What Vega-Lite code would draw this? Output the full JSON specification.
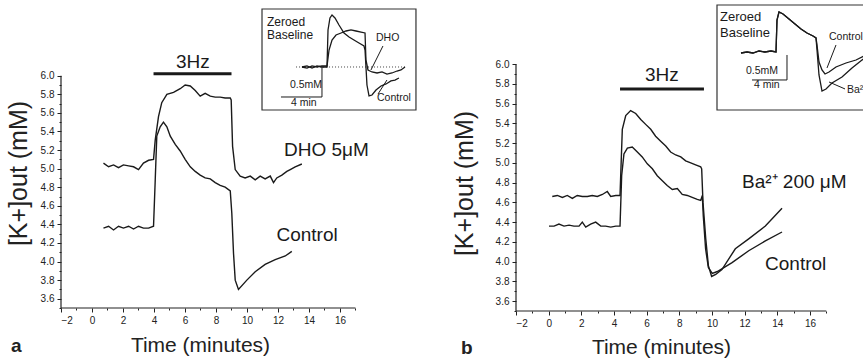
{
  "$schema": "https://vega.github.io/schema/vega-lite/v6.json",
  "padding": {"left": 6, "top": 4, "right": 0, "bottom": 0},
  "spacing": 33,
  "background": "white",
  "config": {
    "view": {"stroke": null},
    "font": "Liberation Sans",
    "axis": {"domain": false, "grid": false, "tickColor": "#222", "tickSize": 4, "labelColor": "#222", "labelFont": "Liberation Sans", "labelFontSize": 10, "labelPadding": 3, "titleFont": "Liberation Sans", "titleFontSize": 21, "titleFontWeight": "normal", "titleColor": "#222"},
    "title": {"font": "Liberation Sans", "color": "#222"}
  },
  "datasets": {
    "a_main": [
      {"t":0.74,"k":5.06,"s":"DHO"},{"t":1.07,"k":5.02,"s":"DHO"},{"t":1.39,"k":5.04,"s":"DHO"},{"t":1.71,"k":5.01,"s":"DHO"},{"t":2.03,"k":5.04,"s":"DHO"},{"t":2.36,"k":5.03,"s":"DHO"},{"t":2.68,"k":5.02,"s":"DHO"},{"t":3.0,"k":4.99,"s":"DHO"},{"t":3.32,"k":5.06,"s":"DHO"},{"t":3.65,"k":5.09,"s":"DHO"},{"t":3.97,"k":5.1,"s":"DHO"},{"t":4.08,"k":5.31,"s":"DHO"},{"t":4.29,"k":5.56,"s":"DHO"},{"t":4.5,"k":5.71,"s":"DHO"},{"t":4.83,"k":5.8,"s":"DHO"},{"t":5.26,"k":5.82,"s":"DHO"},{"t":5.69,"k":5.86,"s":"DHO"},{"t":6.01,"k":5.9,"s":"DHO"},{"t":6.34,"k":5.89,"s":"DHO"},{"t":6.66,"k":5.84,"s":"DHO"},{"t":6.98,"k":5.78,"s":"DHO"},{"t":7.3,"k":5.81,"s":"DHO"},{"t":7.63,"k":5.78,"s":"DHO"},{"t":7.95,"k":5.77,"s":"DHO"},{"t":8.27,"k":5.77,"s":"DHO"},{"t":8.59,"k":5.76,"s":"DHO"},{"t":8.92,"k":5.76,"s":"DHO"},{"t":8.98,"k":5.74,"s":"DHO"},{"t":9.07,"k":5.24,"s":"DHO"},{"t":9.24,"k":4.99,"s":"DHO"},{"t":9.56,"k":4.92,"s":"DHO"},{"t":9.88,"k":4.9,"s":"DHO"},{"t":10.21,"k":4.92,"s":"DHO"},{"t":10.53,"k":4.88,"s":"DHO"},{"t":10.85,"k":4.92,"s":"DHO"},{"t":11.17,"k":4.89,"s":"DHO"},{"t":11.5,"k":4.92,"s":"DHO"},{"t":11.71,"k":4.85,"s":"DHO"},{"t":11.92,"k":4.9,"s":"DHO"},{"t":12.25,"k":4.93,"s":"DHO"},{"t":12.57,"k":4.97,"s":"DHO"},{"t":12.79,"k":4.99,"s":"DHO"},{"t":13.11,"k":5.02,"s":"DHO"},{"t":13.54,"k":5.05,"s":"DHO"},
      {"t":0.74,"k":4.36,"s":"Control"},{"t":1.07,"k":4.38,"s":"Control"},{"t":1.39,"k":4.34,"s":"Control"},{"t":1.71,"k":4.38,"s":"Control"},{"t":2.03,"k":4.36,"s":"Control"},{"t":2.36,"k":4.38,"s":"Control"},{"t":2.68,"k":4.35,"s":"Control"},{"t":3.0,"k":4.38,"s":"Control"},{"t":3.32,"k":4.36,"s":"Control"},{"t":3.65,"k":4.36,"s":"Control"},{"t":3.97,"k":4.38,"s":"Control"},{"t":4.08,"k":4.88,"s":"Control"},{"t":4.18,"k":5.35,"s":"Control"},{"t":4.4,"k":5.45,"s":"Control"},{"t":4.61,"k":5.5,"s":"Control"},{"t":4.83,"k":5.45,"s":"Control"},{"t":5.05,"k":5.35,"s":"Control"},{"t":5.37,"k":5.26,"s":"Control"},{"t":5.69,"k":5.19,"s":"Control"},{"t":6.01,"k":5.1,"s":"Control"},{"t":6.34,"k":5.02,"s":"Control"},{"t":6.66,"k":4.97,"s":"Control"},{"t":6.98,"k":4.93,"s":"Control"},{"t":7.3,"k":4.9,"s":"Control"},{"t":7.63,"k":4.89,"s":"Control"},{"t":7.95,"k":4.85,"s":"Control"},{"t":8.27,"k":4.82,"s":"Control"},{"t":8.59,"k":4.8,"s":"Control"},{"t":8.92,"k":4.76,"s":"Control"},{"t":9.02,"k":4.52,"s":"Control"},{"t":9.13,"k":4.09,"s":"Control"},{"t":9.24,"k":3.8,"s":"Control"},{"t":9.45,"k":3.7,"s":"Control"},{"t":9.99,"k":3.8,"s":"Control"},{"t":10.53,"k":3.89,"s":"Control"},{"t":11.17,"k":3.97,"s":"Control"},{"t":11.82,"k":4.02,"s":"Control"},{"t":12.47,"k":4.06,"s":"Control"},{"t":12.89,"k":4.11,"s":"Control"}
    ],
    "b_main": [
      {"t":0.22,"k":4.66,"s":"Ba"},{"t":0.53,"k":4.67,"s":"Ba"},{"t":0.84,"k":4.65,"s":"Ba"},{"t":1.14,"k":4.67,"s":"Ba"},{"t":1.45,"k":4.64,"s":"Ba"},{"t":1.75,"k":4.67,"s":"Ba"},{"t":2.06,"k":4.66,"s":"Ba"},{"t":2.37,"k":4.66,"s":"Ba"},{"t":2.67,"k":4.67,"s":"Ba"},{"t":2.98,"k":4.66,"s":"Ba"},{"t":3.29,"k":4.68,"s":"Ba"},{"t":3.59,"k":4.71,"s":"Ba"},{"t":3.8,"k":4.66,"s":"Ba"},{"t":4.11,"k":4.67,"s":"Ba"},{"t":4.37,"k":4.67,"s":"Ba"},{"t":4.51,"k":5.34,"s":"Ba"},{"t":4.72,"k":5.48,"s":"Ba"},{"t":5.02,"k":5.53,"s":"Ba"},{"t":5.33,"k":5.5,"s":"Ba"},{"t":5.64,"k":5.44,"s":"Ba"},{"t":5.94,"k":5.39,"s":"Ba"},{"t":6.25,"k":5.34,"s":"Ba"},{"t":6.55,"k":5.27,"s":"Ba"},{"t":6.86,"k":5.22,"s":"Ba"},{"t":7.17,"k":5.17,"s":"Ba"},{"t":7.47,"k":5.11,"s":"Ba"},{"t":7.78,"k":5.08,"s":"Ba"},{"t":8.09,"k":5.06,"s":"Ba"},{"t":8.39,"k":5.02,"s":"Ba"},{"t":8.7,"k":5.0,"s":"Ba"},{"t":9.0,"k":4.98,"s":"Ba"},{"t":9.31,"k":4.96,"s":"Ba"},{"t":9.37,"k":4.94,"s":"Ba"},{"t":9.45,"k":4.6,"s":"Ba"},{"t":9.62,"k":4.23,"s":"Ba"},{"t":9.78,"k":3.96,"s":"Ba"},{"t":9.98,"k":3.85,"s":"Ba"},{"t":10.23,"k":3.87,"s":"Ba"},{"t":10.61,"k":3.92,"s":"Ba"},{"t":11.43,"k":4.13,"s":"Ba"},{"t":12.25,"k":4.23,"s":"Ba"},{"t":13.27,"k":4.36,"s":"Ba"},{"t":14.29,"k":4.54,"s":"Ba"},
      {"t":0.02,"k":4.36,"s":"Control"},{"t":0.33,"k":4.36,"s":"Control"},{"t":0.63,"k":4.38,"s":"Control"},{"t":0.94,"k":4.36,"s":"Control"},{"t":1.25,"k":4.37,"s":"Control"},{"t":1.55,"k":4.36,"s":"Control"},{"t":1.86,"k":4.36,"s":"Control"},{"t":2.06,"k":4.4,"s":"Control"},{"t":2.27,"k":4.35,"s":"Control"},{"t":2.57,"k":4.38,"s":"Control"},{"t":2.88,"k":4.4,"s":"Control"},{"t":3.19,"k":4.36,"s":"Control"},{"t":3.49,"k":4.36,"s":"Control"},{"t":3.8,"k":4.35,"s":"Control"},{"t":4.11,"k":4.36,"s":"Control"},{"t":4.37,"k":4.36,"s":"Control"},{"t":4.47,"k":4.87,"s":"Control"},{"t":4.61,"k":5.09,"s":"Control"},{"t":4.82,"k":5.15,"s":"Control"},{"t":5.12,"k":5.16,"s":"Control"},{"t":5.43,"k":5.11,"s":"Control"},{"t":5.73,"k":5.06,"s":"Control"},{"t":6.04,"k":4.99,"s":"Control"},{"t":6.35,"k":4.94,"s":"Control"},{"t":6.65,"k":4.87,"s":"Control"},{"t":6.96,"k":4.82,"s":"Control"},{"t":7.26,"k":4.77,"s":"Control"},{"t":7.57,"k":4.73,"s":"Control"},{"t":7.88,"k":4.74,"s":"Control"},{"t":8.18,"k":4.68,"s":"Control"},{"t":8.49,"k":4.67,"s":"Control"},{"t":8.79,"k":4.65,"s":"Control"},{"t":9.1,"k":4.63,"s":"Control"},{"t":9.31,"k":4.62,"s":"Control"},{"t":9.41,"k":4.67,"s":"Control"},{"t":9.47,"k":4.46,"s":"Control"},{"t":9.61,"k":4.13,"s":"Control"},{"t":9.78,"k":3.94,"s":"Control"},{"t":10.02,"k":3.88,"s":"Control"},{"t":10.33,"k":3.9,"s":"Control"},{"t":11.23,"k":3.99,"s":"Control"},{"t":12.25,"k":4.11,"s":"Control"},{"t":13.27,"k":4.21,"s":"Control"},{"t":14.29,"k":4.3,"s":"Control"}
    ],
    "a_inset": [
      {"t":-2.44,"v":0,"s":"Control"},{"t":-1.95,"v":0.017,"s":"Control"},{"t":-1.46,"v":-0.017,"s":"Control"},{"t":-0.98,"v":0.017,"s":"Control"},{"t":-0.49,"v":0,"s":"Control"},{"t":0,"v":0,"s":"Control"},{"t":0.1,"v":0.617,"s":"Control"},{"t":0.29,"v":0.817,"s":"Control"},{"t":0.49,"v":0.867,"s":"Control"},{"t":0.78,"v":0.817,"s":"Control"},{"t":1.17,"v":0.7,"s":"Control"},{"t":1.66,"v":0.567,"s":"Control"},{"t":2.15,"v":0.5,"s":"Control"},{"t":2.63,"v":0.45,"s":"Control"},{"t":3.12,"v":0.4,"s":"Control"},{"t":3.61,"v":0.35,"s":"Control"},{"t":3.71,"v":0.283,"s":"Control"},{"t":3.9,"v":-0.3,"s":"Control"},{"t":4.1,"v":-0.483,"s":"Control"},{"t":4.39,"v":-0.467,"s":"Control"},{"t":4.78,"v":-0.383,"s":"Control"},{"t":5.27,"v":-0.317,"s":"Control"},{"t":5.76,"v":-0.283,"s":"Control"},{"t":6.24,"v":-0.233,"s":"Control"},{"t":6.63,"v":-0.217,"s":"Control"},{"t":7.02,"v":-0.183,"s":"Control"},
      {"t":-2.44,"v":0,"s":"DHO"},{"t":-1.95,"v":-0.017,"s":"DHO"},{"t":-1.46,"v":0.017,"s":"DHO"},{"t":-0.98,"v":0,"s":"DHO"},{"t":-0.49,"v":0.017,"s":"DHO"},{"t":0,"v":0.017,"s":"DHO"},{"t":0.2,"v":0.283,"s":"DHO"},{"t":0.49,"v":0.45,"s":"DHO"},{"t":0.88,"v":0.533,"s":"DHO"},{"t":1.37,"v":0.567,"s":"DHO"},{"t":1.85,"v":0.6,"s":"DHO"},{"t":2.34,"v":0.617,"s":"DHO"},{"t":2.83,"v":0.6,"s":"DHO"},{"t":3.32,"v":0.583,"s":"DHO"},{"t":3.71,"v":0.567,"s":"DHO"},{"t":3.8,"v":0.117,"s":"DHO"},{"t":4.0,"v":-0.05,"s":"DHO"},{"t":4.39,"v":-0.083,"s":"DHO"},{"t":4.88,"v":-0.1,"s":"DHO"},{"t":5.37,"v":-0.083,"s":"DHO"},{"t":5.85,"v":-0.117,"s":"DHO"},{"t":6.34,"v":-0.1,"s":"DHO"},{"t":6.83,"v":-0.067,"s":"DHO"},{"t":7.22,"v":-0.05,"s":"DHO"},{"t":7.61,"v":0,"s":"DHO"}
    ],
    "b_inset": [
      {"t":-4.0,"v":-0.021,"s":"Control"},{"t":-3.31,"v":0,"s":"Control"},{"t":-2.63,"v":-0.021,"s":"Control"},{"t":-1.94,"v":0.021,"s":"Control"},{"t":-1.26,"v":0,"s":"Control"},{"t":-0.57,"v":0.021,"s":"Control"},{"t":0,"v":0,"s":"Control"},{"t":0.114,"v":0.667,"s":"Control"},{"t":0.343,"v":0.833,"s":"Control"},{"t":0.8,"v":0.792,"s":"Control"},{"t":1.486,"v":0.688,"s":"Control"},{"t":2.171,"v":0.583,"s":"Control"},{"t":2.857,"v":0.479,"s":"Control"},{"t":3.543,"v":0.396,"s":"Control"},{"t":4.229,"v":0.333,"s":"Control"},{"t":4.571,"v":0.292,"s":"Control"},{"t":4.686,"v":0.146,"s":"Control"},{"t":4.914,"v":-0.208,"s":"Control"},{"t":5.257,"v":-0.375,"s":"Control"},{"t":5.6,"v":-0.458,"s":"Control"},{"t":6.057,"v":-0.417,"s":"Control"},{"t":6.857,"v":-0.313,"s":"Control"},{"t":8.0,"v":-0.229,"s":"Control"},{"t":9.143,"v":-0.167,"s":"Control"},{"t":10.06,"v":-0.083,"s":"Control"},
      {"t":-4.0,"v":-0.021,"s":"Ba"},{"t":-3.31,"v":0,"s":"Ba"},{"t":-2.63,"v":-0.021,"s":"Ba"},{"t":-1.94,"v":0.021,"s":"Ba"},{"t":-1.26,"v":0,"s":"Ba"},{"t":-0.57,"v":0.021,"s":"Ba"},{"t":0,"v":0,"s":"Ba"},{"t":0.114,"v":0.667,"s":"Ba"},{"t":0.343,"v":0.833,"s":"Ba"},{"t":0.8,"v":0.792,"s":"Ba"},{"t":1.486,"v":0.688,"s":"Ba"},{"t":2.171,"v":0.583,"s":"Ba"},{"t":2.857,"v":0.479,"s":"Ba"},{"t":3.543,"v":0.396,"s":"Ba"},{"t":4.229,"v":0.333,"s":"Ba"},{"t":4.571,"v":0.292,"s":"Ba"},{"t":4.686,"v":0.042,"s":"Ba"},{"t":4.914,"v":-0.479,"s":"Ba"},{"t":5.257,"v":-0.813,"s":"Ba"},{"t":5.714,"v":-0.771,"s":"Ba"},{"t":6.4,"v":-0.646,"s":"Ba"},{"t":7.543,"v":-0.521,"s":"Ba"},{"t":8.686,"v":-0.333,"s":"Ba"},{"t":9.829,"v":-0.167,"s":"Ba"},{"t":10.17,"v":-0.125,"s":"Ba"}
    ]
  },
  "hconcat": [
    {
      "width": 358,
      "height": 304,
      "title": {"text": "a", "orient": "bottom", "anchor": "start", "offset": -18, "fontSize": 19, "fontWeight": "bold", "dx": 5},
      "layer": [
        {
          "layer": [
            {
              "data": {"name": "a_main"},
              "mark": {"type": "line", "color": "#1a1a1a", "strokeWidth": 1.4},
              "encoding": {
                "x": {"field": "t", "type": "quantitative", "scale": {"domain": [-2, 21.097], "nice": false, "zero": false},
                      "axis": {"orient": "bottom", "values": [-2,0,2,4,6,8,10,12,14,16], "title": "Time (minutes)", "titleX": 139, "titleY": 37, "titleBaseline": "middle"}},
                "y": {"field": "k", "type": "quantitative", "scale": {"domain": [3.5, 6.772], "nice": false, "zero": false},
                      "axis": {"orient": "left", "values": [3.6,3.8,4.0,4.2,4.4,4.6,4.8,5.0,5.2,5.4,5.6,5.8,6.0], "format": ".1f", "title": "[K+]out (mM)", "titleFontSize": 25, "titleX": -43, "titleY": 169, "titleAnchor": null, "titleAlign": "center", "titleAngle": 270, "titleBaseline": "middle"}},
                "detail": {"field": "s"}
              }
            },
            {
              "data": {"values": [{"x": -2, "x2": -2, "y": 3.5, "y2": 6.0}, {"x": -2, "x2": 17, "y": 3.5, "y2": 3.5}]},
              "mark": {"type": "rule", "color": "#222", "strokeWidth": 1.2},
              "encoding": {
                "x": {"field": "x", "type": "quantitative", "scale": {"domain": [-2, 21.097], "nice": false, "zero": false},
                      "axis": {"orient": "bottom", "values": [-1,1,3,5,7,9,11,13,15,17], "labels": false, "tickSize": 2, "title": null}},
                "x2": {"field": "x2"},
                "y": {"field": "y", "type": "quantitative", "scale": {"domain": [3.5, 6.772], "nice": false, "zero": false},
                      "axis": {"orient": "left", "values": [3.5,3.7,3.9,4.1,4.3,4.5,4.7,4.9,5.1,5.3,5.5,5.7,5.9], "labels": false, "tickSize": 2, "title": null}},
                "y2": {"field": "y2"}
              }
            },
            {
              "data": {"values": [{"t": 3.97, "t2": 9.0, "k": 6.02}]},
              "mark": {"type": "rule", "color": "#1a1a1a", "strokeWidth": 3},
              "encoding": {
                "x": {"field": "t", "type": "quantitative", "scale": {"domain": [-2, 21.097], "nice": false, "zero": false}, "axis": null},
                "x2": {"field": "t2"},
                "y": {"field": "k", "type": "quantitative", "scale": {"domain": [3.5, 6.772], "nice": false, "zero": false}, "axis": null}
              }
            },
            {
              "data": {"values": [{"t": 5.42, "k": 6.15, "label": "3Hz"}, {"t": 12.39, "k": 5.2, "label": "DHO 5μM"}, {"t": 11.9, "k": 4.29, "label": "Control"}]},
              "mark": {"type": "text", "align": "left", "baseline": "middle", "fontSize": 19, "color": "#1a1a1a"},
              "encoding": {
                "x": {"field": "t", "type": "quantitative", "scale": {"domain": [-2, 21.097], "nice": false, "zero": false}, "axis": null},
                "y": {"field": "k", "type": "quantitative", "scale": {"domain": [3.5, 6.772], "nice": false, "zero": false}, "axis": null},
                "text": {"field": "label"}
              }
            }
          ],
          "resolve": {"axis": {"x": "independent", "y": "independent"}}
        },
        {
          "layer": [
            {
              "data": {"values": [{"t": -6.34, "t2": 8.68, "v": 0.967, "v2": -0.717}]},
              "mark": {"type": "rect", "fill": "white", "stroke": "#333", "strokeWidth": 1.2},
              "encoding": {
                "x": {"field": "t", "type": "quantitative", "scale": {"domain": [-25.95, 8.976], "nice": false, "zero": false}, "axis": null},
                "x2": {"field": "t2"},
                "y": {"field": "v", "type": "quantitative", "scale": {"domain": [-4.017, 1.05], "nice": false, "zero": false}, "axis": null},
                "y2": {"field": "v2"}
              }
            },
            {
              "data": {"values": [{"t": -3.02, "t2": 7.7, "v": 0}]},
              "mark": {"type": "rule", "color": "#444", "strokeWidth": 1, "strokeDash": [1, 2]},
              "encoding": {
                "x": {"field": "t", "type": "quantitative"},
                "x2": {"field": "t2"},
                "y": {"field": "v", "type": "quantitative"}
              }
            },
            {
              "data": {"name": "a_inset"},
              "mark": {"type": "line", "color": "#1a1a1a", "strokeWidth": 1.3},
              "encoding": {
                "x": {"field": "t", "type": "quantitative"},
                "y": {"field": "v", "type": "quantitative"},
                "detail": {"field": "s"}
              }
            },
            {
              "data": {"values": [
                {"t": -0.49, "t2": -0.49, "v": 0, "v2": -0.5},
                {"t": -4.49, "t2": -0.49, "v": -0.5, "v2": -0.5},
                {"t": 5.46, "t2": 4.29, "v": 0.35, "v2": -0.05},
                {"t": 4.98, "t2": 5.85, "v": -0.45, "v2": -0.217}
              ]},
              "mark": {"type": "rule", "color": "#1a1a1a", "strokeWidth": 1},
              "encoding": {
                "x": {"field": "t", "type": "quantitative"},
                "x2": {"field": "t2"},
                "y": {"field": "v", "type": "quantitative"},
                "y2": {"field": "v2"}
              }
            },
            {
              "data": {"values": [{"t": -5.85, "v": 0.75, "label": "Zeroed"}, {"t": -5.85, "v": 0.533, "label": "Baseline"}]},
              "mark": {"type": "text", "align": "left", "baseline": "middle", "fontSize": 12, "color": "#1a1a1a"},
              "encoding": {
                "x": {"field": "t", "type": "quantitative"},
                "y": {"field": "v", "type": "quantitative"},
                "text": {"field": "label"}
              }
            },
            {
              "data": {"values": [{"t": -3.61, "v": -0.3, "label": "0.5mM"}, {"t": -3.51, "v": -0.6, "label": "4 min"}, {"t": 4.78, "v": 0.483, "label": "DHO"}, {"t": 4.88, "v": -0.517, "label": "Control"}]},
              "mark": {"type": "text", "align": "left", "baseline": "middle", "fontSize": 10.5, "color": "#1a1a1a"},
              "encoding": {
                "x": {"field": "t", "type": "quantitative"},
                "y": {"field": "v", "type": "quantitative"},
                "text": {"field": "label"}
              }
            }
          ]
        }
      ],
      "resolve": {"scale": {"x": "independent", "y": "independent"}, "axis": {"x": "independent", "y": "independent"}}
    },
    {
      "width": 347,
      "height": 307,
      "title": {"text": "b", "orient": "bottom", "anchor": "start", "offset": -18, "fontSize": 19, "fontWeight": "bold", "dx": 9},
      "layer": [
        {
          "layer": [
            {
              "data": {"name": "b_main"},
              "mark": {"type": "line", "color": "#1a1a1a", "strokeWidth": 1.4},
              "encoding": {
                "x": {"field": "t", "type": "quantitative", "scale": {"domain": [-2, 19.249], "nice": false, "zero": false},
                      "axis": {"orient": "bottom", "values": [-2,0,2,4,6,8,10,12,14,16], "title": "Time (minutes)", "titleX": 145, "titleY": 36, "titleBaseline": "middle"}},
                "y": {"field": "k", "type": "quantitative", "scale": {"domain": [3.5, 6.609], "nice": false, "zero": false},
                      "axis": {"orient": "left", "values": [3.6,3.8,4.0,4.2,4.4,4.6,4.8,5.0,5.2,5.4,5.6,5.8,6.0], "format": ".1f", "title": "[K+]out (mM)", "titleFontSize": 25, "titleX": -52, "titleY": 179, "titleAnchor": null, "titleAlign": "center", "titleAngle": 270, "titleBaseline": "middle"}},
                "detail": {"field": "s"}
              }
            },
            {
              "data": {"values": [{"x": -2, "x2": -2, "y": 3.5, "y2": 6.0}, {"x": -2, "x2": 17, "y": 3.5, "y2": 3.5}]},
              "mark": {"type": "rule", "color": "#222", "strokeWidth": 1.2},
              "encoding": {
                "x": {"field": "x", "type": "quantitative", "scale": {"domain": [-2, 19.249], "nice": false, "zero": false},
                      "axis": {"orient": "bottom", "values": [-1,1,3,5,7,9,11,13,15,17], "labels": false, "tickSize": 2, "title": null}},
                "x2": {"field": "x2"},
                "y": {"field": "y", "type": "quantitative", "scale": {"domain": [3.5, 6.609], "nice": false, "zero": false},
                      "axis": {"orient": "left", "values": [3.5,3.7,3.9,4.1,4.3,4.5,4.7,4.9,5.1,5.3,5.5,5.7,5.9], "labels": false, "tickSize": 2, "title": null}},
                "y2": {"field": "y2"}
              }
            },
            {
              "data": {"values": [{"t": 4.37, "t2": 9.51, "k": 5.747}]},
              "mark": {"type": "rule", "color": "#1a1a1a", "strokeWidth": 3},
              "encoding": {
                "x": {"field": "t", "type": "quantitative", "scale": {"domain": [-2, 19.249], "nice": false, "zero": false}, "axis": null},
                "x2": {"field": "t2"},
                "y": {"field": "k", "type": "quantitative", "scale": {"domain": [3.5, 6.609], "nice": false, "zero": false}, "axis": null}
              }
            },
            {
              "data": {"values": [{"t": 5.9, "k": 5.889, "label": "3Hz"}, {"t": 11.84, "k": 4.805, "label": "Ba²⁺ 200 μM"}, {"t": 13.25, "k": 3.98, "label": "Control"}]},
              "mark": {"type": "text", "align": "left", "baseline": "middle", "fontSize": 19, "color": "#1a1a1a"},
              "encoding": {
                "x": {"field": "t", "type": "quantitative", "scale": {"domain": [-2, 19.249], "nice": false, "zero": false}, "axis": null},
                "y": {"field": "k", "type": "quantitative", "scale": {"domain": [3.5, 6.609], "nice": false, "zero": false}, "axis": null},
                "text": {"field": "label"}
              }
            }
          ],
          "resolve": {"axis": {"x": "independent", "y": "independent"}}
        },
        {
          "layer": [
            {
              "data": {"values": [{"t": -6.743, "t2": 12, "v": 0.979, "v2": -1.208}]},
              "mark": {"type": "rect", "fill": "white", "stroke": "#333", "strokeWidth": 1.2, "clip": true},
              "encoding": {
                "x": {"field": "t", "type": "quantitative", "scale": {"domain": [-29.714, 9.943], "nice": false, "zero": false}, "axis": null},
                "x2": {"field": "t2"},
                "y": {"field": "v", "type": "quantitative", "scale": {"domain": [-5.396, 1.0], "nice": false, "zero": false}, "axis": null},
                "y2": {"field": "v2"}
              }
            },
            {
              "data": {"name": "b_inset"},
              "mark": {"type": "line", "color": "#1a1a1a", "strokeWidth": 1.3, "clip": true},
              "encoding": {
                "x": {"field": "t", "type": "quantitative"},
                "y": {"field": "v", "type": "quantitative"},
                "detail": {"field": "s"}
              }
            },
            {
              "data": {"values": [
                {"t": 1.257, "t2": 1.257, "v": -0.0625, "v2": -0.583},
                {"t": -2.743, "t2": 1.257, "v": -0.583, "v2": -0.583},
                {"t": 6.857, "t2": 5.83, "v": 0.146, "v2": -0.333},
                {"t": 7.886, "t2": 6.06, "v": -0.77, "v2": -0.625}
              ]},
              "mark": {"type": "rule", "color": "#1a1a1a", "strokeWidth": 1, "clip": true},
              "encoding": {
                "x": {"field": "t", "type": "quantitative"},
                "x2": {"field": "t2"},
                "y": {"field": "v", "type": "quantitative"},
                "y2": {"field": "v2"}
              }
            },
            {
              "data": {"values": [{"t": -6.4, "v": 0.729, "label": "Zeroed"}, {"t": -6.4, "v": 0.396, "label": "Baseline"}]},
              "mark": {"type": "text", "align": "left", "baseline": "middle", "fontSize": 13, "color": "#1a1a1a", "clip": true},
              "encoding": {
                "x": {"field": "t", "type": "quantitative"},
                "y": {"field": "v", "type": "quantitative"},
                "text": {"field": "label"}
              }
            },
            {
              "data": {"values": [{"t": -3.43, "v": -0.396, "label": "0.5mM"}, {"t": -2.51, "v": -0.6875, "label": "4 min"}, {"t": 6.06, "v": 0.3125, "label": "Control"}, {"t": 8.11, "v": -0.79, "label": "Ba²⁺"}]},
              "mark": {"type": "text", "align": "left", "baseline": "middle", "fontSize": 10.5, "color": "#1a1a1a", "clip": true},
              "encoding": {
                "x": {"field": "t", "type": "quantitative"},
                "y": {"field": "v", "type": "quantitative"},
                "text": {"field": "label"}
              }
            }
          ]
        }
      ],
      "resolve": {"scale": {"x": "independent", "y": "independent"}, "axis": {"x": "independent", "y": "independent"}}
    }
  ]
}
